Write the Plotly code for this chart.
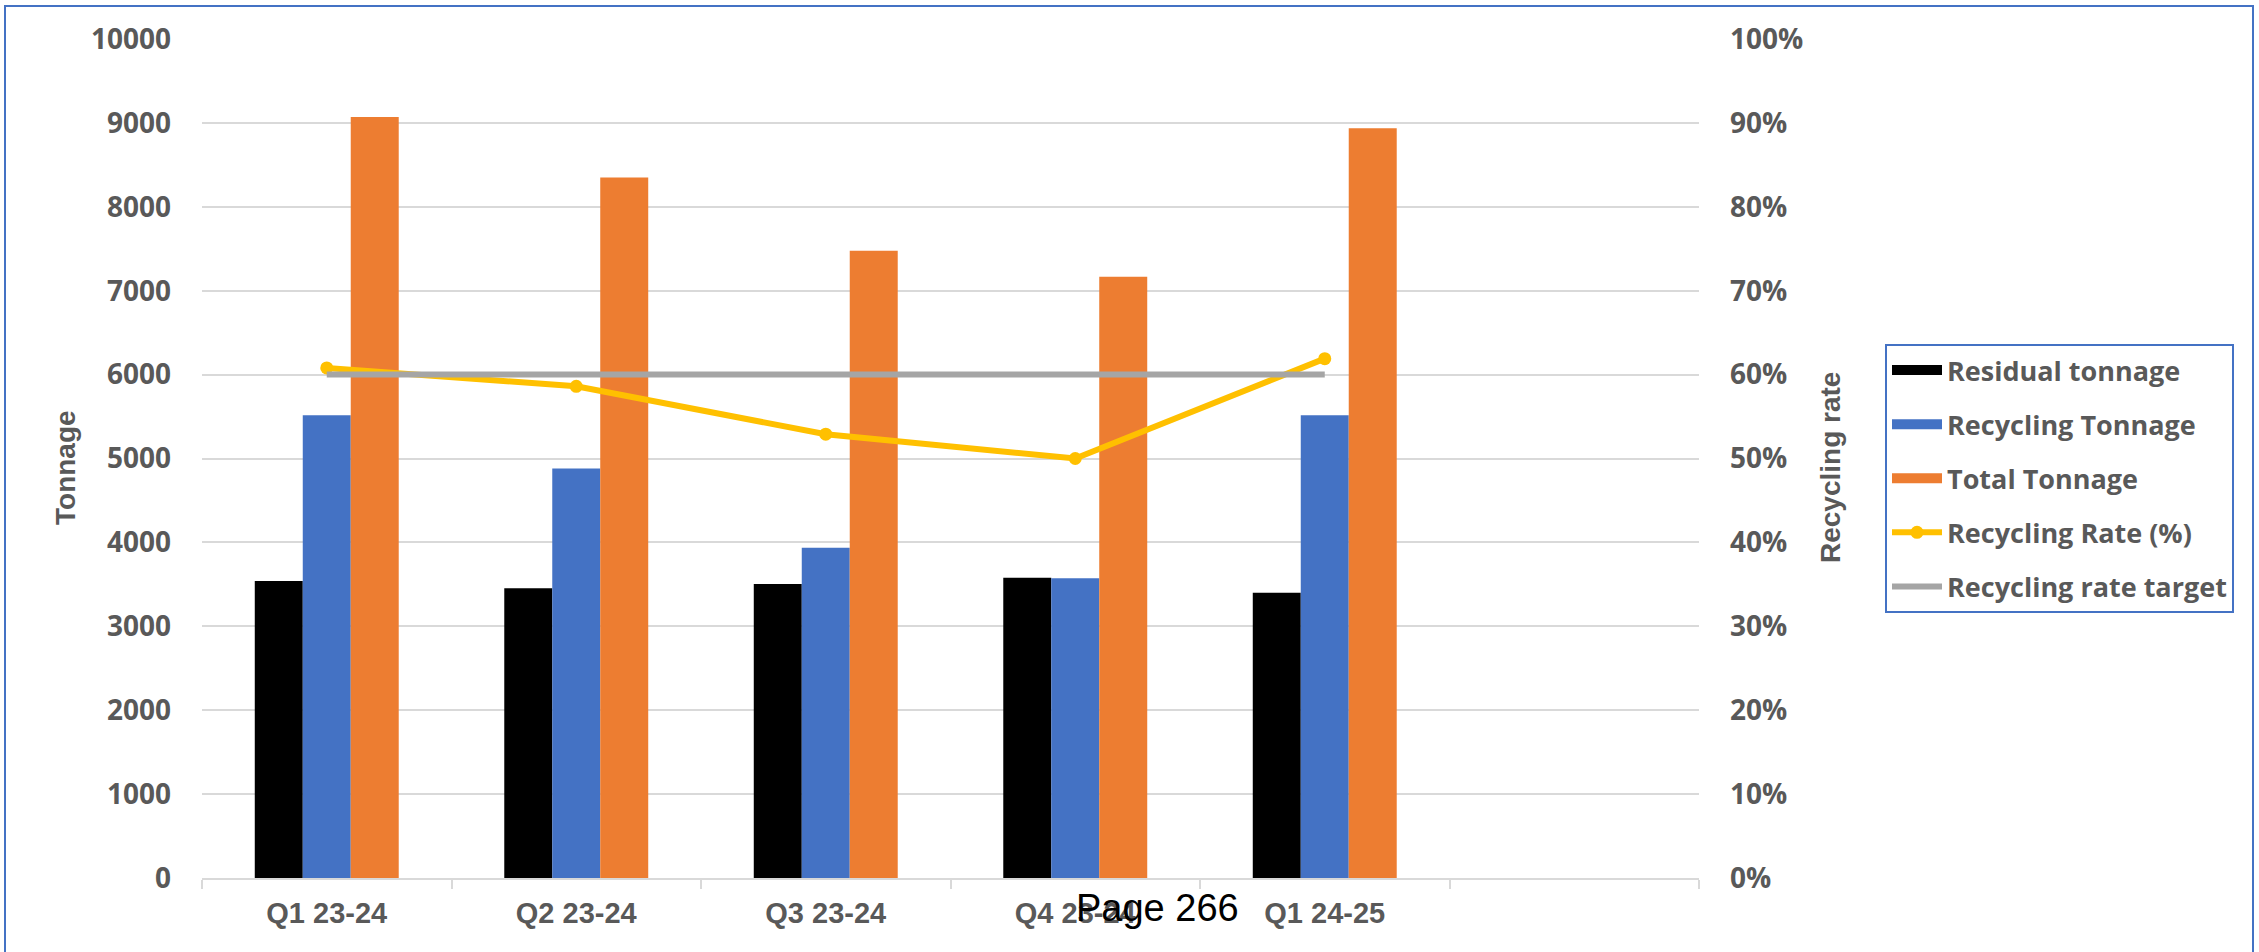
import plotly.graph_objects as go

# Quarterly waste tonnage and recycling performance
quarters = ["Q1 23-24", "Q2 23-24", "Q3 23-24", "Q4 23-24", "Q1 24-25"]
axis_slots = quarters + [" "]

residual_tonnage = [3540, 3455, 3505, 3578, 3400]
recycling_tonnage = [5515, 4880, 3935, 3572, 5515]
total_tonnage = [9070, 8350, 7475, 7165, 8935]
recycling_rate = [0.608, 0.586, 0.529, 0.500, 0.619]
rate_target = [0.60, 0.60, 0.60, 0.60, 0.60]

BLACK = "#000000"
BLUE = "#4472C4"
ORANGE = "#ED7D31"
YELLOW = "#FFC000"
GREY = "#A5A5A5"
TEXT = "#595959"
GRID = "#D9D9D9"

TICK_FONT = dict(family="Open Sans", size=28, color=TEXT, weight="bold")
ARIALISH = "Liberation Sans, Arial, sans-serif"

fig = go.Figure()

bar_series = [
    ("Residual tonnage", residual_tonnage, BLACK),
    ("Recycling Tonnage", recycling_tonnage, BLUE),
    ("Total Tonnage", total_tonnage, ORANGE),
]
for name, vals, col in bar_series:
    fig.add_trace(go.Bar(
        x=quarters, y=vals, name=name, marker_color=col,
        marker_line_width=0, showlegend=False, yaxis="y",
    ))

# legend swatches for the bar series, drawn as thick line keys
for i, (name, vals, col) in enumerate(bar_series):
    fig.add_trace(go.Scatter(
        x=[None], y=[None], mode="lines", name=name,
        line=dict(color=col, width=17), legendgroup=f"g{i}",
        legendrank=i + 1, hoverinfo="skip",
    ))

fig.add_trace(go.Scatter(
    x=quarters, y=recycling_rate, name="Recycling Rate (%)", yaxis="y2",
    mode="lines+markers", line=dict(color=YELLOW, width=6),
    marker=dict(color=YELLOW, size=13), legendgroup="g3", legendrank=4,
))
fig.add_trace(go.Scatter(
    x=quarters, y=rate_target, name="Recycling rate target", yaxis="y2",
    mode="lines", line=dict(color=GREY, width=6), legendgroup="g4",
    legendrank=5,
))

W, H = 2259, 952
L, R, T, B = 202, 560, 39, 74
pw, ph = W - L - R, H - T - B


def px(xp):
    return (xp - L) / pw


def py(yp):
    return (H - B - yp) / ph


fig.update_layout(
    width=W, height=H,
    margin=dict(l=L, r=R, t=T, b=B, pad=0),
    paper_bgcolor="white", plot_bgcolor="white",
    barmode="group", bargap=0.423, bargroupgap=0,
    font=dict(family="Open Sans", color=TEXT),
    xaxis=dict(
        type="category", categoryorder="array", categoryarray=axis_slots,
        range=[-0.5, 5.5], tickson="boundaries", ticks="outside",
        ticklen=9, tickcolor=GRID, tickwidth=2,
        showline=True, linecolor=GRID, linewidth=2, showgrid=False,
        tickfont=dict(family=ARIALISH, size=29, color=TEXT, weight="bold"),
        ticklabelstandoff=8,
    ),
    yaxis=dict(
        range=[0, 10000], dtick=1000, tickformat="d",
        showgrid=True, gridcolor=GRID, gridwidth=1.5, zeroline=False,
        showline=False, tickfont=TICK_FONT, ticklabelstandoff=30,
    ),
    yaxis2=dict(
        overlaying="y", side="right", range=[0, 1], dtick=0.1,
        tickformat=".0%", showgrid=False, zeroline=False, showline=False,
        tickfont=TICK_FONT, ticklabelstandoff=30,
    ),
    legend=dict(
        x=px(1885), y=py(344), xanchor="left", yanchor="top",
        bordercolor=BLUE, borderwidth=2, bgcolor="white",
        font=dict(family="Open Sans", size=27, color=TEXT, weight="bold"),
        itemwidth=50, tracegroupgap=16, traceorder="grouped",
    ),
    showlegend=True,
    annotations=[
        dict(text="Tonnage", x=px(66), y=py(468), xref="paper", yref="paper",
             xanchor="center", yanchor="middle",
             textangle=-90, showarrow=False,
             font=dict(family=ARIALISH, size=28, color=TEXT, weight="bold")),
        dict(text="Recycling rate", x=px(1831), y=py(468), xref="paper",
             yref="paper", xanchor="center", yanchor="middle",
             textangle=-90, showarrow=False,
             font=dict(family=ARIALISH, size=28, color=TEXT, weight="bold")),
        dict(text="Page 266", x=px(1157), y=py(908), xref="paper",
             yref="paper", xanchor="center", yanchor="middle",
             showarrow=False,
             font=dict(family=ARIALISH, size=38, color="#000000")),
    ],
    shapes=[
        dict(type="rect", xref="paper", yref="paper",
             x0=px(5), x1=px(2253), y0=py(1000), y1=py(6),
             line=dict(color=BLUE, width=2), fillcolor="rgba(0,0,0,0)",
             layer="above"),
    ],
)

fig.write_html("out.html")
